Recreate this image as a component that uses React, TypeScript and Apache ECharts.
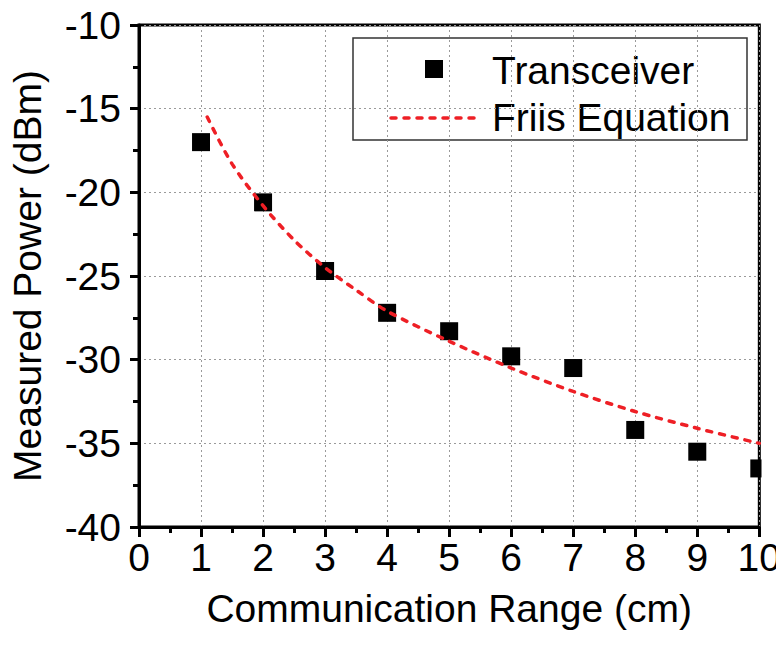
import React, { useEffect, useRef } from "react";
import * as echarts from "echarts";

// Measured received power of the transceiver at each range (cm -> dBm)
const rangeCm = [1, 2, 3, 4, 5, 6, 7, 8, 9, 10];
const transceiverDbm = [-17.0, -20.6, -24.7, -27.2, -28.3, -29.8, -30.5, -34.2, -35.5, -36.5];

// Friis equation prediction sampled along the range
const friisRange = [1.1, 1.5, 2, 2.5, 3, 3.5, 4, 5, 6, 7, 8, 9, 10];
const friisDbm = [-15.5, -18.3, -20.8, -22.85, -24.5, -25.84, -27.1, -28.9, -30.5, -31.9, -33.1, -34.1, -35.0];

const FONT = "'Liberation Sans', Arial, Helvetica, sans-serif";
const FONT_SIZE = 39;
const RED = "#ee1f25";
const DASH = [5, 8];

export default function App() {
  const ref = useRef<HTMLDivElement>(null);

  useEffect(() => {
    if (!ref.current) return;
    const chart = echarts.init(ref.current, null, { renderer: "svg" });

    const axisText = { color: "#000", fontFamily: FONT, fontSize: FONT_SIZE };
    const splitLine = { show: true, lineStyle: { color: "#9a9a9a", width: 1, type: [2, 3] as any } };

    chart.setOption({
      animation: false,
      backgroundColor: "#fff",
      grid: {
        left: 139,
        right: 24,
        top: 25,
        bottom: 121,
        show: true,
        borderColor: "#000",
        borderWidth: 3,
      },
      xAxis: {
        type: "value",
        min: 0,
        max: 10,
        interval: 1,
        name: "Communication Range (cm)",
        nameLocation: "middle",
        nameGap: 62,
        nameTextStyle: axisText,
        axisLine: { show: true, onZero: false, lineStyle: { color: "#000", width: 3 } },
        axisTick: { show: true, inside: false, length: 10, lineStyle: { color: "#000", width: 3 } },
        minorTick: { show: true, splitNumber: 2, length: 6, lineStyle: { color: "#000", width: 3 } },
        axisLabel: { ...axisText, margin: 11 },
        splitLine,
      },
      yAxis: {
        type: "value",
        min: -40,
        max: -10,
        interval: 5,
        name: "Measured Power (dBm)",
        nameLocation: "middle",
        nameGap: 92,
        nameTextStyle: axisText,
        axisLine: { show: true, onZero: false, lineStyle: { color: "#000", width: 3 } },
        axisTick: { show: true, inside: false, length: 9, lineStyle: { color: "#000", width: 3 } },
        minorTick: { show: true, splitNumber: 2, length: 6, lineStyle: { color: "#000", width: 3 } },
        axisLabel: { ...axisText, margin: 18 },
        splitLine,
      },
      series: [
        {
          name: "Friis Equation",
          type: "line",
          data: friisRange.map((x, i) => [x, friisDbm[i]]),
          smooth: 0.3,
          showSymbol: false,
          symbol: "none",
          lineStyle: { color: RED, width: 3.5, type: DASH, cap: "round" },
          z: 3,
        },
        {
          name: "Transceiver",
          type: "scatter",
          data: rangeCm.map((x, i) => [x, transceiverDbm[i]]),
          symbol: "rect",
          symbolSize: 18,
          clip: false,
          itemStyle: { color: "#000", opacity: 1 },
          z: 2,
        },
      ],
      graphic: [
        // trims the plot's right edge so marks stop at the frame
        {
          type: "rect",
          z: 100,
          shape: { x: 761.5, y: 10, width: 30, height: 522 },
          style: { fill: "#fff" },
        },
        // legend
        {
          type: "group",
          z: 50,
          children: [
            {
              type: "rect",
              shape: { x: 353, y: 38, width: 394, height: 102 },
              style: { fill: "#fff", stroke: "#333", lineWidth: 1.5 },
            },
            {
              type: "rect",
              shape: { x: 425, y: 60, width: 18, height: 18 },
              style: { fill: "#000" },
            },
            {
              type: "text",
              x: 492,
              y: 70,
              style: {
                text: "Transceiver",
                fill: "#000",
                font: `${FONT_SIZE}px ${FONT}`,
                verticalAlign: "middle",
                align: "left",
              },
            },
            {
              type: "line",
              shape: { x1: 391, y1: 118, x2: 476, y2: 118 },
              style: { stroke: RED, lineWidth: 3.5, lineDash: DASH, lineCap: "round" },
            },
            {
              type: "text",
              x: 492,
              y: 117,
              style: {
                text: "Friis Equation",
                fill: "#000",
                font: `${FONT_SIZE}px ${FONT}`,
                verticalAlign: "middle",
                align: "left",
              },
            },
          ],
        },
      ],
    });

    return () => chart.dispose();
  }, []);

  return <div ref={ref} style={{ width: 784, height: 648, margin: -8 }} />;
}
